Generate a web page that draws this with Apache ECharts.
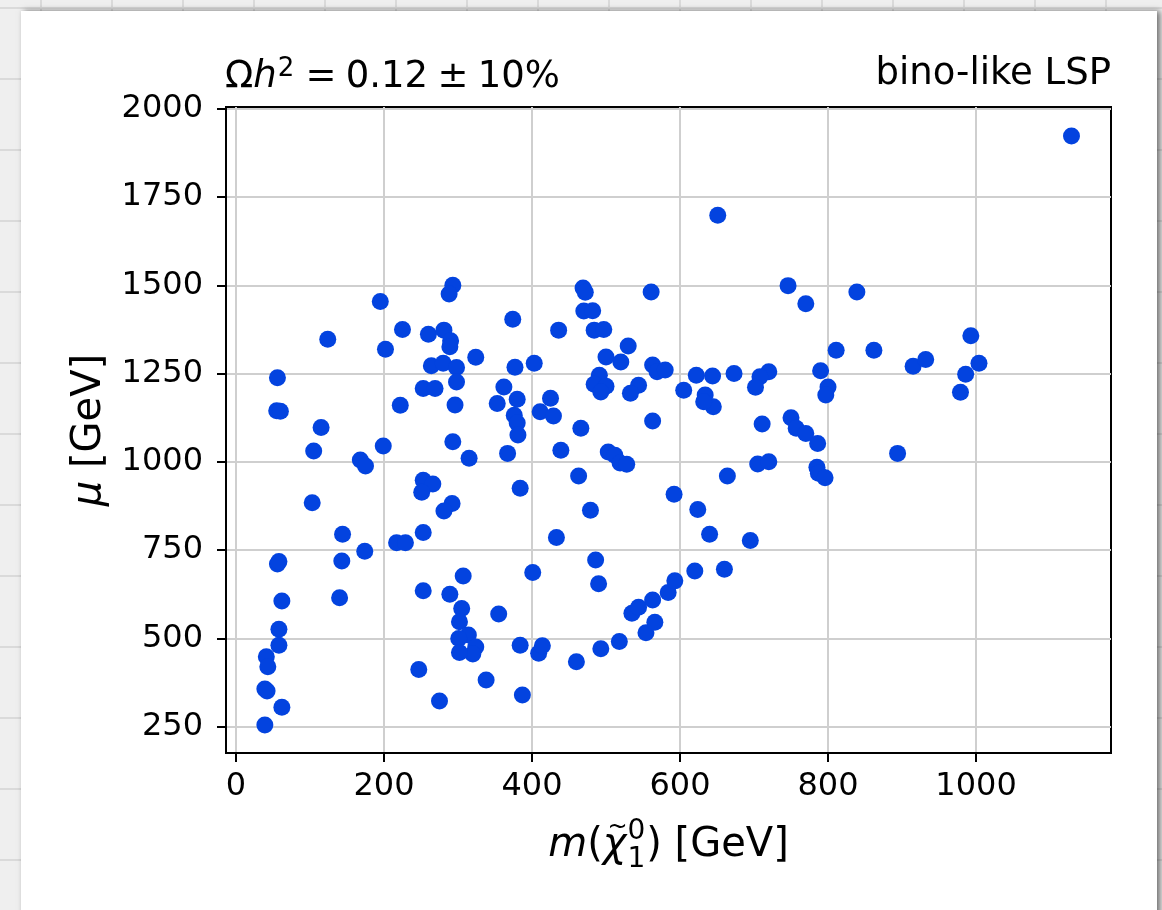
<!DOCTYPE html>
<html>
<head>
<meta charset="utf-8">
<script src="https://cdn.jsdelivr.net/npm/echarts@6/dist/echarts.min.js"></script>
<style>
  html, body { margin: 0; padding: 0; }
  body {
    width: 1162px; height: 910px; overflow: hidden; position: relative;
    background-color: #efefef;
    background-image:
      linear-gradient(to right, #dadada 2px, transparent 2px),
      linear-gradient(to bottom, #dadada 2px, transparent 2px);
    background-size: 71px 71px;
    background-position: 40px 7px;
  }
  #card {
    position: absolute; left: 21px; top: 11px; width: 1136px; height: 920px;
    background: #ffffff;
    box-shadow: 3px 0 6px rgba(0,0,0,0.55);
  }
  #chart { position: absolute; left: 0; top: 0; width: 1162px; height: 910px; }
</style>
</head>
<body>
<div id="card"></div>
<div id="chart"></div>
<script>
// neutralino mass m(chi_1^0) [GeV]
const mass = [
  293, 288, 195, 374, 124, 225, 260, 281, 290, 289, 202, 324, 377, 264, 280, 298, 56, 298, 253, 269,
  362, 55, 60, 115, 222, 296, 353, 380, 376, 380, 381,
  651, 469, 472, 561, 746, 770, 470, 482, 436, 484, 497, 530, 500, 520, 403, 563, 569, 580, 491,
  484, 500, 493, 544, 533, 425, 411, 429, 466, 563, 605, 622, 644, 673, 634, 645, 632, 720, 708, 702,
  711, 750, 757, 770, 786, 790,
  1129, 839, 811, 862, 915, 932, 993, 1004, 986, 979, 800, 797,
  785, 787, 796, 894,
  105, 199, 168, 175, 293, 315, 367, 384, 253, 266, 251, 292, 281, 103, 253, 217, 229, 144, 143, 174,
  140, 56, 58, 62, 58, 58, 41, 43, 39, 42, 62, 39, 253, 289, 307, 305, 302, 314, 301, 324,
  320, 302, 355, 384, 247, 338, 275, 387,
  439, 503, 512, 519, 528, 463, 479, 433, 401, 486, 490, 409, 414, 460, 493, 518, 554, 566, 535, 544,
  563, 584, 593, 620, 660, 695, 640, 624, 592, 664, 705, 720
];
// higgsino mass parameter mu [GeV]
const mu = [
  1500, 1475, 1454, 1404, 1347, 1375, 1361, 1373, 1343, 1326, 1319, 1296, 1268, 1272, 1279, 1267, 1238, 1226, 1208, 1208,
  1212, 1145, 1143, 1097, 1160, 1161, 1165, 1177, 1132, 1110, 1076,
  1698, 1492, 1480, 1481, 1499, 1448, 1427, 1428, 1373, 1373, 1375, 1328, 1297, 1283, 1279, 1274, 1255, 1260, 1245,
  1220, 1214, 1198, 1217, 1194, 1180, 1142, 1130, 1095, 1116, 1203, 1245, 1243, 1250, 1189, 1156, 1170, 1255, 1241, 1211,
  1107, 1125, 1095, 1080, 1052, 1258,
  1923, 1481, 1316, 1316, 1271, 1290, 1357, 1279, 1248, 1197, 1212, 1189,
  985, 968, 955, 1024,
  1031, 1045, 1005, 988, 1057, 1010, 1024, 925, 948, 937, 914, 882, 861, 884, 800, 771, 771, 795, 719, 747,
  615, 711, 718, 606, 526, 481, 448, 420, 357, 351, 305, 255, 635, 625, 677, 585, 547, 510, 500, 476,
  456, 460, 569, 481, 412, 382, 323, 340,
  1033, 1028, 1019, 997, 993, 960, 863, 786, 687, 722, 655, 458, 479, 434, 471, 491, 516, 546, 571, 588,
  609, 630, 663, 691, 696, 777, 795, 865, 908, 960, 994, 1000
];
const xTicks = [0, 200, 400, 600, 800, 1000];
const yTicks = [250, 500, 750, 1000, 1250, 1500, 1750, 2000];
const titleRight = 'bino-like LSP';

const FONT = '"DejaVu Sans", sans-serif';
const points = mass.map((m, i) => [m, mu[i]]);

const G = { left: 226, top: 107, width: 885, height: 646 };

// measure helper for composing the x-axis label
const ctx = document.createElement('canvas').getContext('2d');
function tw(t, size, italic) {
  ctx.font = (italic ? 'italic ' : '') + size + 'px "DejaVu Sans"';
  return ctx.measureText(t).width;
}
const LS = 40, SS = 28;
const parts = [
  { t: 'm', it: true, s: LS },
  { t: '(', it: false, s: LS },
  { t: 'χ', it: true, s: LS },
];
let wTotal = 0;
parts.forEach(p => { p.w = tw(p.t, p.s, p.it); wTotal += p.w; });
const scriptW = tw('0', SS, false) + 2;
const tailText = ') [GeV]';
const tailW = tw(tailText, LS, false);
wTotal += scriptW + tailW;
const xlCenter = G.left + G.width / 2;
const xlY = 846;
let cx = xlCenter - wTotal / 2;
const xlChildren = [];
parts.forEach(p => {
  xlChildren.push({ type: 'text', x: cx, y: xlY, style: { text: p.t, font: (p.it ? 'italic ' : '') + p.s + 'px ' + FONT, fill: '#000', align: 'left', verticalAlign: 'middle' } });
  if (p.t === 'χ') {
    xlChildren.push({ type: 'text', x: cx + p.w / 2 + 3, y: xlY - 18, style: { text: '~', font: '24px ' + FONT, fill: '#000', align: 'center', verticalAlign: 'middle' } });
  }
  cx += p.w;
});
xlChildren.push({ type: 'text', x: cx + 1, y: xlY - 14, style: { text: '0', font: SS + 'px ' + FONT, fill: '#000', align: 'left', verticalAlign: 'middle' } });
xlChildren.push({ type: 'text', x: cx + 1, y: xlY + 14, style: { text: '1', font: SS + 'px ' + FONT, fill: '#000', align: 'left', verticalAlign: 'middle' } });
cx += scriptW;
xlChildren.push({ type: 'text', x: cx, y: xlY, style: { text: tailText, font: LS + 'px ' + FONT, fill: '#000', align: 'left', verticalAlign: 'middle' } });

const chart = echarts.init(document.getElementById('chart'), null, { renderer: 'canvas' });
chart.setOption({
  backgroundColor: 'transparent',
  animation: false,
  grid: { left: G.left, top: G.top, width: G.width, height: G.height, show: true, borderColor: '#000', borderWidth: 2, backgroundColor: '#fff' },
  xAxis: {
    type: 'value', min: -13.5, max: 1182.4,
    axisLine: { show: true, onZero: false, lineStyle: { color: '#000', width: 2 } },
    axisTick: { show: true, inside: false, length: 9, lineStyle: { color: '#000', width: 2 }, customValues: xTicks },
    axisLabel: { customValues: xTicks, formatter: v => String(v), fontFamily: FONT, fontSize: 32, color: '#000', margin: 18 },
    splitLine: { show: true, lineStyle: { color: '#cfcfcf', width: 2 } }
  },
  yAxis: {
    type: 'value', min: 175.6, max: 2004.8,
    name: '{i|μ} [GeV]', nameLocation: 'middle', nameRotate: 90, nameGap: 116,
    nameTextStyle: { fontFamily: FONT, fontSize: 40, color: '#000', rich: { i: { fontFamily: FONT, fontSize: 40, fontStyle: 'italic', color: '#000' } } },
    axisLine: { show: true, onZero: false, lineStyle: { color: '#000', width: 2 } },
    axisTick: { show: true, inside: false, length: 9, lineStyle: { color: '#000', width: 2 }, customValues: yTicks },
    axisLabel: { customValues: yTicks, formatter: v => String(v), fontFamily: FONT, fontSize: 32, color: '#000', margin: 23 },
    splitLine: { show: true, lineStyle: { color: '#cfcfcf', width: 2 } }
  },
  series: [{
    type: 'scatter', data: points, symbol: 'circle', symbolSize: 17,
    itemStyle: { color: '#0343df', opacity: 1 }, z: 5
  }],
  graphic: [
    { type: 'text', left: G.left - 1, top: 56, style: {
        text: '{n|Ω}{i|h}{s|2}{n|\u2005=\u20050.12\u2005±\u200510%}',
        rich: {
          n: { fontFamily: FONT, fontSize: 37, color: '#000', lineHeight: 40, verticalAlign: 'bottom' },
          i: { fontFamily: FONT, fontSize: 37, fontStyle: 'italic', color: '#000', lineHeight: 40, verticalAlign: 'bottom' },
          s: { fontFamily: FONT, fontSize: 26, color: '#000', lineHeight: 26, verticalAlign: 'top', padding: [0, 2, 0, 1] }
        } } },
    { type: 'text', right: 1162 - (G.left + G.width), top: 56, style: { text: titleRight, font: '37px ' + FONT, fill: '#000' } },
    { type: 'group', children: xlChildren }
  ]
});
</script>
</body>
</html>
